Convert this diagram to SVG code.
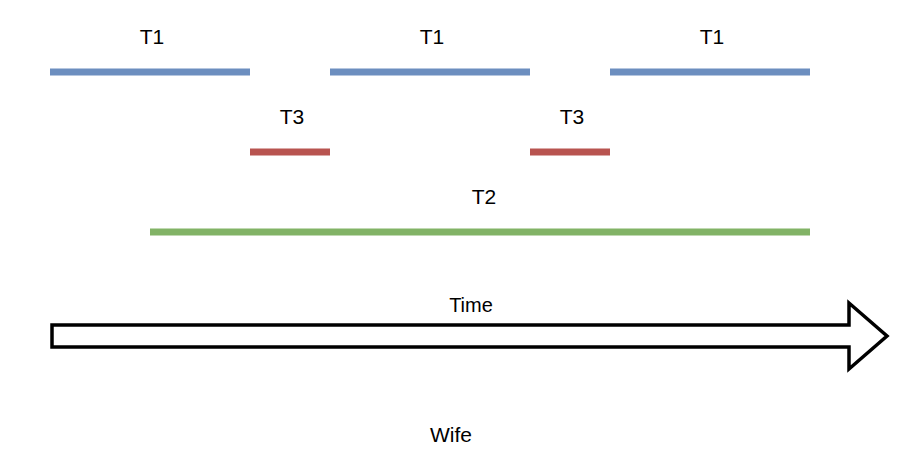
<svg xmlns="http://www.w3.org/2000/svg" width="912" height="466" viewBox="0 0 912 466">
<style>
text{font-family:"Liberation Sans",Arial,sans-serif;font-size:21px;fill:#000;text-anchor:middle}
.t1{stroke:#6c8ebf;stroke-width:7}
.t3{stroke:#b85450;stroke-width:7}
.t2{stroke:#82b366;stroke-width:7}
</style>
<rect width="912" height="466" fill="#fff"/>
<g id="t1a"><line class="t1" x1="50" y1="72" x2="250" y2="72"/><text x="152" y="44">T1</text></g>
<g id="t1b"><line class="t1" x1="330" y1="72" x2="530" y2="72"/><text x="432" y="44">T1</text></g>
<g id="t1c"><line class="t1" x1="610" y1="72" x2="810" y2="72"/><text x="712" y="44">T1</text></g>
<g id="t3a"><line class="t3" x1="250" y1="152" x2="330" y2="152"/><text x="292" y="124">T3</text></g>
<g id="t3b"><line class="t3" x1="530" y1="152" x2="610" y2="152"/><text x="572" y="124">T3</text></g>
<g id="t2"><line class="t2" x1="150" y1="232" x2="810" y2="232"/><text x="484" y="204">T2</text></g>
<g id="time"><path d="M52,325 L849,325 L849,303 L887,336 L849,369 L849,347 L52,347 Z" fill="#fff" stroke="#000" stroke-width="3.5"/><text x="471" y="312" style="font-size:20px">Time</text></g>
<g id="wife"><text x="451" y="442">Wife</text></g>
</svg>
